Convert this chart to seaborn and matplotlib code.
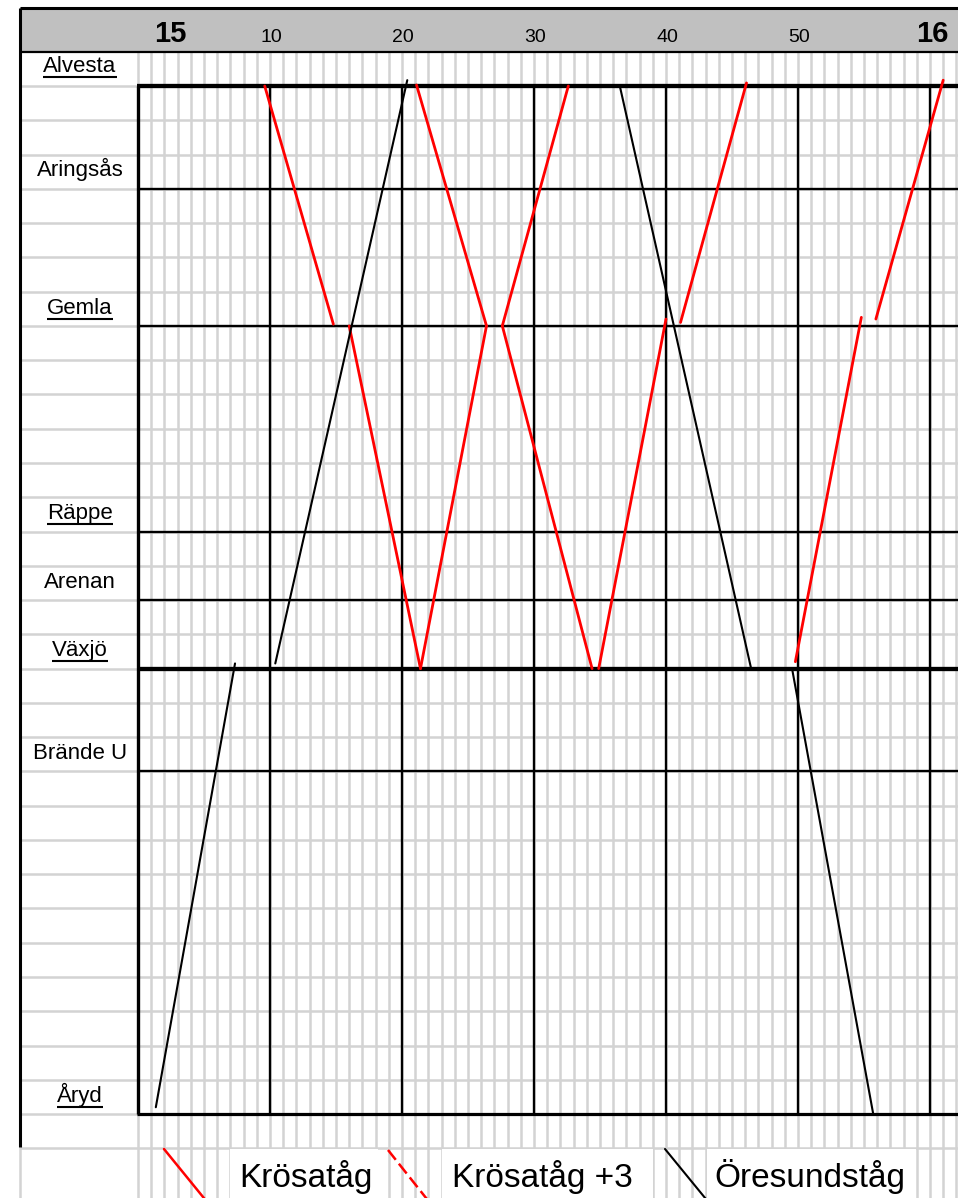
import numpy as np
import pandas as pd
import matplotlib
matplotlib.use("Agg")
import matplotlib.pyplot as plt
import seaborn as sns
from matplotlib.patches import Rectangle

# ---------------- data ----------------
stations = ["Alvesta", "Aringsås", "Gemla", "Räppe", "Arenan", "Växjö", "Brände U", "Åryd"]
station_rows = [0, 3, 7, 13, 15, 17, 20, 30]
station_underlined = [True, False, True, True, False, True, False, True]

hour_labels = ["15", "16"]
minute_labels = ["10", "20", "30", "40", "50"]
minute_values = [10, 20, 30, 40, 50]

# Krösatåg segments (minutes after 15:00, station-row position)
kros_minutes = [[9.6, 14.8], [16.0, 21.4], [21.4, 26.4], [21.1, 26.4], [27.6, 32.6],
                [27.6, 34.4], [34.9, 40.0], [41.1, 46.1], [49.8, 54.8], [55.9, 61.0]]
kros_rows = [[0, 6.95], [7, 17], [17, 7], [-0.03, 7], [7, 0],
             [7, 17], [17, 6.8], [6.9, -0.09], [16.8, 6.75], [6.8, -0.17]]

# Öresundståg segments
oresund_minutes = [[1.35, 7.35], [10.4, 20.4], [36.5, 46.45], [49.55, 55.7]]
oresund_rows = [[29.8, 16.85], [16.85, -0.17], [0, 17], [17, 30]]

legend_labels = ["Krösatåg", "Krösatåg +3", "Öresundståg"]

# ---------------- helpers (pixel layout -> data) ----------------
PX_PER_MIN = 13.2
PX_PER_ROW = 34.27
X0, Y0 = 138, 86
def X(px):
    return (px - X0) / PX_PER_MIN
def Y(py):
    return (py - Y0) / PX_PER_ROW

sns.set_theme(style="white")
plt.rcParams['font.family'] = ['Liberation Sans', 'DejaVu Sans']
plt.rcParams['text.color'] = 'black'

fig = plt.figure(figsize=(9.58, 11.98), dpi=100)
ax = fig.add_axes([0, 0, 1, 1])
ax.set_xlim(X(0), X(958))
ax.set_ylim(Y(1198), Y(0))
ax.axis('off')

GRAY = '#d3d3d3'
# header fill
ax.add_patch(Rectangle((X(20), Y(8)), X(958) - X(20), Y(52) - Y(8),
                       facecolor='#c0c0c0', edgecolor='none', zorder=0.5))
# minor gray verticals (each minute)
for m in range(0, 63):
    ax.plot([m, m], [Y(52), Y(1210)], color=GRAY, lw=1.8, zorder=1, solid_capstyle='butt')
# gray horizontals (each row)
for r in range(0, 32):
    ax.plot([X(20), X(960)], [r, r], color=GRAY, lw=1.8, zorder=1.1, solid_capstyle='butt')
# white legend cells
for (a, b) in [(230, 378), (442, 653), (707, 916)]:
    ax.add_patch(Rectangle((X(a), Y(1149)), X(b) - X(a), Y(1200) - Y(1149),
                           facecolor='white', edgecolor='none', zorder=1.2))
# borders
ax.plot([X(20), X(20)], [Y(8), Y(1147)], color='black', lw=2.2, zorder=3, solid_capstyle='butt')
ax.plot([X(20), X(20)], [Y(1147), Y(1200)], color=GRAY, lw=1.8, zorder=1.1, solid_capstyle='butt')
ax.plot([X(20), X(960)], [Y(8), Y(8)], color='black', lw=2.2, zorder=3, solid_capstyle='butt')
ax.plot([X(20), X(960)], [Y(52), Y(52)], color='black', lw=1.6, zorder=3, solid_capstyle='butt')

# black 10-minute verticals
for m in range(0, 61, 10):
    ax.plot([m, m], [0, 30], color='black', lw=2.4 if m == 0 else 1.7, zorder=1.5,
            solid_capstyle='butt')
# station lines
for name, r in zip(stations, station_rows):
    if name in ("Alvesta", "Växjö"):
        lw = 3.1
    elif name == "Åryd":
        lw = 2.3
    else:
        lw = 1.7
    ax.plot([-0.1, X(960)], [r, r], color='black', lw=lw, zorder=1.6, solid_capstyle='butt')

# ---------------- train lines via seaborn ----------------
def seg_frame(mins, rows, train):
    recs = []
    for i, (ms, rs) in enumerate(zip(mins, rows)):
        for m, r in zip(ms, rs):
            recs.append({"minute": m, "row": r, "seg": f"{train}{i}", "train": train})
    return pd.DataFrame(recs)

df_k = seg_frame(kros_minutes, kros_rows, "Krösatåg")
df_o = seg_frame(oresund_minutes, oresund_rows, "Öresundståg")

sns.lineplot(data=df_k, x="minute", y="row", units="seg", estimator=None, sort=False,
             color="#ff0000", lw=2.0, legend=False, ax=ax, zorder=4)
sns.lineplot(data=df_o, x="minute", y="row", units="seg", estimator=None, sort=False,
             color="black", lw=1.5, legend=False, ax=ax, zorder=4)
ax.set_xlim(X(0), X(958))
ax.set_ylim(Y(1198), Y(0))
ax.axis('off')

# ---------------- texts ----------------
station_texts = []
for name, r, ul in zip(stations, station_rows, station_underlined):
    yb = r - (0.41 if name == "Alvesta" else 0.36)
    t = ax.text(X(80), yb, name, ha='center', va='baseline', fontsize=16, color='black', zorder=5)
    station_texts.append((t, yb, ul))

ax.text(X(170), Y(42), hour_labels[0], ha='center', va='baseline', fontsize=21,
        fontweight='bold', color='black', zorder=5)
ax.text(X(932), Y(42), hour_labels[1], ha='center', va='baseline', fontsize=21,
        fontweight='bold', color='black', zorder=5)
for lab, v in zip(minute_labels, minute_values):
    ax.text(v + 0.1, Y(42), lab, ha='center', va='baseline', fontsize=14, color='black', zorder=5)

# legend row
ax.plot([X(164), X(212)], [Y(1149), Y(1208)], color='#ff0000', lw=1.8, zorder=4)
ax.plot([X(388), X(434)], [Y(1150), Y(1208)], color='#ff0000', lw=1.8, zorder=4,
        dashes=(5, 2))
ax.plot([X(665), X(710)], [Y(1149), Y(1204)], color='black', lw=1.5, zorder=4)
for lab, cx in zip(legend_labels, [306, 542, 810]):
    ax.text(X(cx), Y(1187), lab, ha='center', va='baseline', fontsize=24, color='black', zorder=5)

# underlines
fig.canvas.draw()
renderer = fig.canvas.get_renderer()
inv = ax.transData.inverted()
for t, yb, ul in station_texts:
    if not ul:
        continue
    bb = t.get_window_extent(renderer)
    base_disp = ax.transData.transform((0, yb))[1]
    uy = base_disp - 5
    (x0d, uyd) = inv.transform((bb.x0, uy))
    (x1d, _) = inv.transform((bb.x1, uy))
    ax.plot([x0d, x1d], [uyd, uyd], color='black', lw=1.5, zorder=5, solid_capstyle='butt')

fig.savefig("out.png", dpi=100)
